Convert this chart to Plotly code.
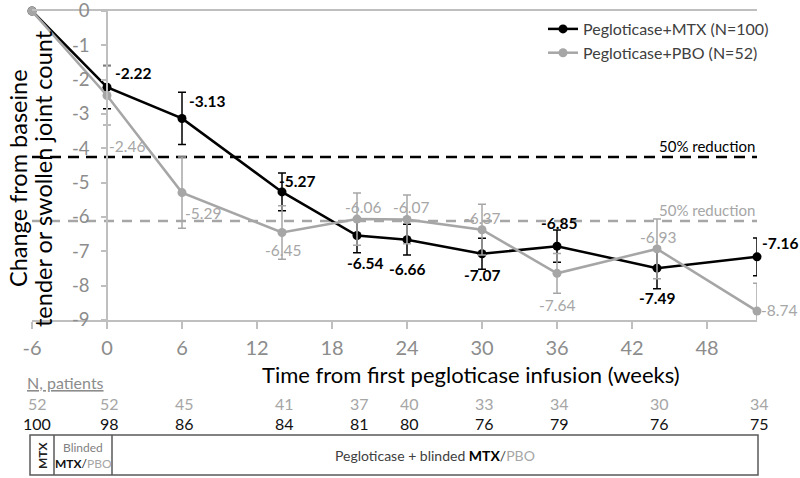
import plotly.graph_objects as go

# ---------------- data ----------------
weeks = [-6, 0, 6, 14, 20, 24, 30, 36, 44, 52]
mtx_vals = [0, -2.22, -3.13, -5.27, -6.54, -6.66, -7.07, -6.85, -7.49, -7.16]
pbo_vals = [0, -2.46, -5.29, -6.45, -6.06, -6.07, -6.37, -7.64, -6.93, -8.74]
mtx_err = [None, 0.63, 0.76, 0.55, 0.50, 0.45, 0.45, 0.47, 0.60, 0.55]
pbo_err = [None, 0.86, 1.04, 0.78, 0.76, 0.71, 0.74, 0.58, 0.87, 0.81]
n_pbo = [52, 52, 45, 41, 37, 40, 33, 34, 30, 34]
n_mtx = [100, 98, 86, 84, 81, 80, 76, 79, 76, 75]
mtx_ref = -4.25
pbo_ref = -6.12
x_ticks = [-6, 0, 6, 12, 18, 24, 30, 36, 42, 48]
y_ticks = [0, -1, -2, -3, -4, -5, -6, -7, -8, -9]

# label placement (style): (xanchor, xshift, yshift)
mtx_lab_pos = [None, ("left", 6, 14), ("left", 5, 17), ("left", -5, 11), ("center", 8, -27),
               ("center", 0, -29), ("center", 0, -21), ("center", 2, 23), ("center", 0, -30),
               ("left", 3, 14)]
pbo_lab_pos = [None, ("left", 0, -51), ("left", 1, -20), ("center", 1, -18), ("center", 6, 12),
               ("center", 4, 12), ("center", 0, 12), ("center", 0, -32), ("center", 1, 12),
               ("left", 2, 1)]

BLACK = "#000000"
GRAY = "#a6a6a6"
AXIS = "#bfbfbf"
TICKC = "#8c8c8c"
FONT = "Lato"

L, R, T, B = 32, 43, 11, 158
W, H = 800, 478
PW, PH = W - L - R, H - T - B


def px(xp):
    return (xp - L) / PW


def py(yp):
    return (H - B - yp) / PH


fig = go.Figure()

fig.add_trace(go.Scatter(
    x=weeks, y=mtx_vals, mode="lines+markers", name="Pegloticase+MTX (N=100)",
    line=dict(color=BLACK, width=2.5), marker=dict(color=BLACK, size=9),
    error_y=dict(type="data", array=mtx_err, symmetric=True, color=BLACK, thickness=1.5, width=4),
    cliponaxis=False,
))
fig.add_trace(go.Scatter(
    x=weeks, y=pbo_vals, mode="lines+markers", name="Pegloticase+PBO (N=52)",
    line=dict(color=GRAY, width=2.5), marker=dict(color=GRAY, size=9),
    error_y=dict(type="data", array=pbo_err, symmetric=True, color=GRAY, thickness=1.5, width=4),
    cliponaxis=False,
))

annotations = []
for w, v, p in zip(weeks, mtx_vals, mtx_lab_pos):
    if p is None:
        continue
    annotations.append(dict(x=w, y=v, xref="x", yref="y", text=f"<b>{v:.2f}</b>", showarrow=False,
                            xanchor=p[0], yanchor="middle", xshift=p[1], yshift=p[2],
                            font=dict(family=FONT, size=15.5, color=BLACK)))
for w, v, p in zip(weeks, pbo_vals, pbo_lab_pos):
    if p is None:
        continue
    annotations.append(dict(x=w, y=v, xref="x", yref="y", text=f"{v:.2f}", showarrow=False,
                            xanchor=p[0], yanchor="middle", xshift=p[1], yshift=p[2],
                            font=dict(family=FONT, size=15.5, color=GRAY)))

# reference lines
shapes = [
    dict(type="line", xref="x", yref="y", x0=weeks[0], x1=weeks[-1], y0=mtx_ref, y1=mtx_ref,
         line=dict(color=BLACK, width=2.5, dash="11px,7px"), layer="below"),
    dict(type="line", xref="x", yref="y", x0=weeks[0], x1=weeks[-1], y0=pbo_ref, y1=pbo_ref,
         line=dict(color=GRAY, width=2.5, dash="10px,8px"), layer="below"),
]
annotations.append(dict(x=weeks[-1], y=mtx_ref, xref="x", yref="y", text="50% reduction",
                        showarrow=False, xanchor="right", yanchor="bottom", yshift=0,
                        font=dict(family=FONT, size=15, color=BLACK)))
annotations.append(dict(x=weeks[-1], y=pbo_ref, xref="x", yref="y", text="50% reduction",
                        showarrow=False, xanchor="right", yanchor="bottom", yshift=0,
                        font=dict(family=FONT, size=15, color=GRAY)))

# axis titles
annotations.append(dict(x=px(471), y=py(374), xref="paper", yref="paper",
                        text="Time from first pegloticase infusion (weeks)", showarrow=False,
                        xanchor="center", yanchor="middle",
                        font=dict(family=FONT, size=22, color=BLACK)))
annotations.append(dict(x=px(18), y=py(178), xref="paper", yref="paper",
                        text="Change from baseine", showarrow=False,
                        xanchor="center", yanchor="middle", textangle=-90,
                        font=dict(family=FONT, size=23.5, color=BLACK)))
annotations.append(dict(x=px(43), y=py(179), xref="paper", yref="paper",
                        text="tender or swollen joint count", showarrow=False,
                        xanchor="center", yanchor="middle", textangle=-90,
                        font=dict(family=FONT, size=23.5, color=BLACK)))

# N patients table
annotations.append(dict(x=px(25), y=py(382), xref="paper", yref="paper",
                        text="<u>N, patients</u>", showarrow=False, xanchor="left", yanchor="middle",
                        font=dict(family=FONT, size=16, color="#8c8c8c")))
for i, (w, a, b) in enumerate(zip(weeks, n_pbo, n_mtx)):
    xs = 5 if i == 0 else 2
    annotations.append(dict(x=w, y=py(403), xref="x", yref="paper", text=str(a), showarrow=False,
                            xanchor="center", yanchor="middle", xshift=xs,
                            font=dict(family=FONT, size=16, color=GRAY)))
    annotations.append(dict(x=w, y=py(423), xref="x", yref="paper", text=str(b), showarrow=False,
                            xanchor="center", yanchor="middle", xshift=xs,
                            font=dict(family=FONT, size=16, color="#111111")))

# treatment period box
BOXC = "#595959"
shapes.append(dict(type="rect", xref="paper", yref="paper", x0=px(30), x1=px(758), y0=py(475), y1=py(435),
                   line=dict(color=BOXC, width=1.5)))
for xd in (54, 112):
    shapes.append(dict(type="line", xref="paper", yref="paper", x0=px(xd), x1=px(xd), y0=py(475), y1=py(435),
                       line=dict(color=BOXC, width=1.5)))
annotations.append(dict(x=px(42), y=py(455), xref="paper", yref="paper", text="<b>MTX</b>",
                        showarrow=False, textangle=-90, xanchor="center", yanchor="middle",
                        font=dict(family=FONT, size=12, color="#222222")))
annotations.append(dict(x=px(83), y=py(447), xref="paper", yref="paper", text="Blinded",
                        showarrow=False, xanchor="center", yanchor="middle",
                        font=dict(family=FONT, size=12, color="#7f7f7f")))
annotations.append(dict(x=px(83), y=py(463), xref="paper", yref="paper",
                        text="<b>MTX</b>/<span style='color:#a6a6a6'>PBO</span>",
                        showarrow=False, xanchor="center", yanchor="middle",
                        font=dict(family=FONT, size=12, color="#111111")))
annotations.append(dict(x=px(435), y=py(455), xref="paper", yref="paper",
                        text="Pegloticase + blinded <b><span style='color:#000000'>MTX</span></b>/<span style='color:#a6a6a6'>PBO</span>",
                        showarrow=False, xanchor="center", yanchor="middle",
                        font=dict(family=FONT, size=14, color="#404040")))

fig.update_layout(
    width=W, height=H,
    margin=dict(l=L, r=R, t=T, b=B, autoexpand=False),
    paper_bgcolor="white", plot_bgcolor="white",
    font=dict(family=FONT, color="#404040"),
    showlegend=True,
    legend=dict(x=px(543), y=py(12), xanchor="left", yanchor="top",
                font=dict(family=FONT, size=16, color="#404040"),
                bgcolor="rgba(0,0,0,0)", itemwidth=30, tracegroupgap=0),
    annotations=annotations,
    shapes=shapes,
    xaxis=dict(range=[weeks[0], weeks[-1]], tickvals=x_ticks, ticktext=[str(t) for t in x_ticks],
               showgrid=False, zeroline=False, showline=True, linecolor=AXIS, linewidth=1.5,
               mirror=True, ticks="outside", ticklen=7, tickcolor=AXIS, tickwidth=1.5,
               automargin=False, ticklabelstandoff=2,
               tickfont=dict(family=FONT, size=20, color=TICKC)),
    yaxis=dict(range=[-9, 0], tickvals=y_ticks, ticktext=[str(t) for t in y_ticks],
               anchor="free", position=px(107), automargin=False, ticklabeloverflow="allow",
               showgrid=False, zeroline=False, showline=True, linecolor=AXIS, linewidth=1.5,
               ticks="outside", ticklen=5, tickcolor=AXIS, tickwidth=1.5, ticklabelstandoff=8,
               tickfont=dict(family=FONT, size=18.5, color=TICKC)),
)

fig.write_html("out.html", config={"displayModeBar": False},
               post_script="document.body.style.margin='0';document.body.style.overflow='hidden';")
